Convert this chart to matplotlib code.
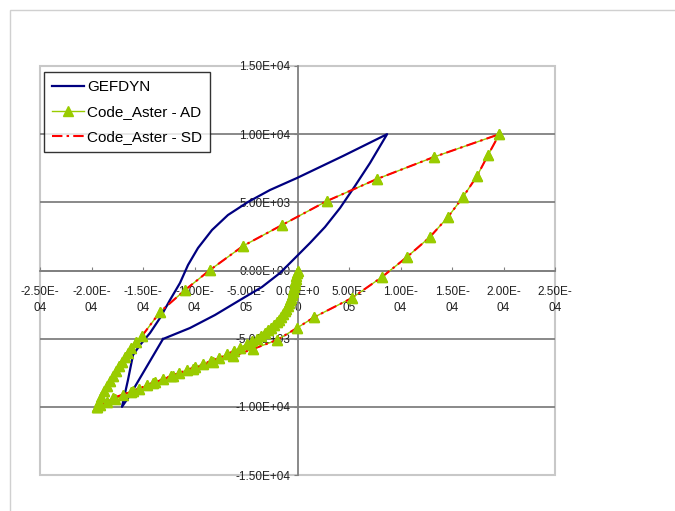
import numpy as np
import matplotlib.pyplot as plt
from matplotlib.patches import Rectangle

plt.rcParams['font.family'] = ['Liberation Sans', 'DejaVu Sans']

# GEFDYN loop (strain in 1e-6, stress)
gefdyn_strain = [-130.6, -104.4, -80.1, -55.8, -34.5, -17.0, -2.4, 12.1, 26.7, 41.3,
                 55.8, 70.4, 87.0,
                 44.2, -0.5, -26.7, -48.1, -67.5, -83.0, -96.6, -106.3, -114.1, -123.8,
                 -133.5, -143.2, -152.9, -159.7, -164.6, -170.4,
                 -162.6, -130.6]
gefdyn_stress = [-5024, -4218, -3264, -2164, -1211, -183, 917, 2017, 3191, 4584,
                 6198, 7885, 10000,
                 8399, 6785, 5905, 5024, 4071, 2971, 1651, 403, -917, -2164,
                 -3484, -4585, -5465, -6198, -8032, -10000,
                 -9132, -5024]

# Code_Aster loop (same path for AD and SD)
aster_strain = [0.0, -0.5, -1.0, -1.5, -2.0, -2.6, -3.2, -3.9, -4.6, -5.4,
                -6.3, -7.3, -8.4, -9.6, -11.0, -12.5, -14.2, -16.0, -18.0, -20.2,
                -22.6, -25.3, -28.3, -31.6, -35.3, -39.5, -44.2, -49.5, -55.4, -61.8,
                -68.5, -76.2, -84.0, -91.7, -99.5, -107.3, -115.0, -122.8, -130.6, -138.3,
                -146.1, -153.9, -161.7, -169.4, -177.2, -185.0, -191.7, -194.7,
                -192.7, -190.8, -187.9, -185.0, -182.0, -179.1, -176.2, -173.3, -170.4, -167.5,
                -164.6, -161.7, -156.8, -151.0, -133.5, -109.2, -85.0, -52.9, -15.0, 28.6,
                77.2, 132.5, 196.0,
                185.0, 174.3, 160.7, 146.1, 128.6, 106.3, 82.0, 52.9, 16.5, -0.5,
                -19.9, -43.2, -62.6, -82.0, -101.5, -120.9, -140.3, -159.7, -179.1, -194.7]
aster_stress = [0, -200, -400, -600, -800, -1000, -1200, -1400, -1600, -1800,
                -2000, -2200, -2400, -2600, -2800, -3000, -3200, -3400, -3600, -3800,
                -4000, -4200, -4400, -4600, -4800, -5000, -5200, -5400, -5650, -5900,
                -6150, -6420, -6640, -6860, -7080, -7300, -7520, -7740, -7960, -8180,
                -8400, -8690, -8910, -9130, -9420, -9650, -9870, -10000,
                -9645, -9279, -8839, -8472, -8105, -7738, -7372, -7005, -6711, -6345,
                -6051, -5685, -5245, -4804, -3044, -1430, 37, 1797, 3337, 5098,
                6712, 8326, 10000,
                8472, 6932, 5391, 3924, 2457, 990, -477, -2017, -3411, -4218,
                -5098, -5758, -6271, -6711, -7225, -7738, -8252, -8839, -9352, -10000]

x_ticks = [-2.5e-4, -2.0e-4, -1.5e-4, -1.0e-4, -5.0e-5, 0.0, 5.0e-5, 1.0e-4, 1.5e-4, 2.0e-4, 2.5e-4]
x_tick_labels = ['-2.50E-\n04', '-2.00E-\n04', '-1.50E-\n04', '-1.00E-\n04', '-5.00E-\n05',
                 '0.00E+0\n0', '5.00E-\n05', '1.00E-\n04', '1.50E-\n04', '2.00E-\n04', '2.50E-\n04']
y_ticks = [-15000, -10000, -5000, 0, 5000, 10000, 15000]
y_tick_labels = ['-1.50E+04', '-1.00E+04', '-5.00E+03', '0.00E+00', '5.00E+03', '1.00E+04', '1.50E+04']

gx = np.array(gefdyn_strain) * 1e-6
ax_x = np.array(aster_strain) * 1e-6

fig = plt.figure(figsize=(6.75, 5.11), dpi=100)
ax = fig.add_axes([40/675, 36/511, 515/675, 409/511])

ax.plot(gx, gefdyn_stress, color='#000080', lw=1.6, label='GEFDYN', zorder=3)
ax.plot(ax_x, aster_stress, color='#99CC00', lw=1.0, marker='^', ms=6.5,
        mec='#99CC00', label='Code_Aster - AD', zorder=2)
ax.plot(ax_x, aster_stress, color='#FF0000', lw=1.5, dashes=(5, 2, 1.2, 2),
        label='Code_Aster - SD', zorder=4)
ax.plot(ax_x, aster_stress, ls='none', marker='^', ms=6.5, color='#99CC00', zorder=5)

ax.set_xlim(-2.5e-4, 2.5e-4)
ax.set_ylim(-1.5e4, 1.5e4)
ax.set_xticks(x_ticks)
ax.set_xticklabels(x_tick_labels)
ax.set_yticks(y_ticks)
ax.set_yticklabels(y_tick_labels)

for s in ['top', 'right']:
    ax.spines[s].set_visible(False)
ax.spines['left'].set_position(('data', 0))
ax.spines['bottom'].set_position(('data', 0))
for s in ['left', 'bottom']:
    ax.spines[s].set_color('#808080')
    ax.spines[s].set_linewidth(1.3)
    ax.spines[s].set_zorder(1.5)

ax.tick_params(axis='x', direction='in', length=3, pad=11.5, labelsize=8.5,
               color='#808080', labelcolor='#202020')
ax.tick_params(axis='y', direction='out', length=3, pad=2, labelsize=8.5,
               color='#808080', labelcolor='#202020')
for lbl in ax.get_xticklabels():
    lbl.set_linespacing(1.4)

ax.yaxis.grid(True, color='#808080', lw=1.3)
ax.set_axisbelow(True)
glines = ax.get_ygridlines()
glines[0].set_visible(False)
glines[-1].set_visible(False)

ax.add_patch(Rectangle((0, 0), 1, 1, transform=ax.transAxes, fill=False,
                       ec='#c8c8c8', lw=1.5, clip_on=False, zorder=0.5))

leg = ax.legend(loc='upper left', bbox_to_anchor=(4/515, 1 - 6/409), borderaxespad=0,
                frameon=True, fancybox=False, edgecolor='black', fontsize=11,
                handlelength=2.1, handletextpad=0.2, labelspacing=0.73, borderpad=0.52)
leg.get_frame().set_linewidth(1.0)
leg.set_zorder(10)

fig.add_artist(Rectangle((10/675, -0.1), 1.2, 1 - 10/511 + 0.1, transform=fig.transFigure,
                         fill=False, ec='#d0d0d0', lw=1))

plt.savefig('out.png', dpi=100)
